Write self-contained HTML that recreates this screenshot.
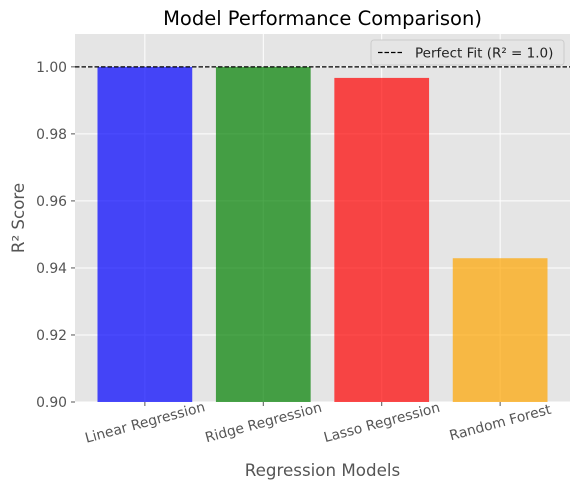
<!DOCTYPE html>
<html><head><meta charset="utf-8"><style>
body{margin:0;background:#fff;font-family:"Liberation Sans","DejaVu Sans",sans-serif}
svg text{font-family:"DejaVu Sans","Liberation Sans",sans-serif}
</style></head><body>
<svg id="chart" width="580" height="491"></svg>
<script>
const categories=["Linear Regression","Ridge Regression","Lasso Regression","Random Forest"];
const scores=[1.0,0.99999,0.9967,0.9429];
const colors=["#0000ff","#008000","#ff0000","#ffa500"];
const yTicks=[0.90,0.92,0.94,0.96,0.98,1.00];
const yMin=0.90,yMax=1.0098;
const L=75,R=570,T=34,B=402;
const ns="http://www.w3.org/2000/svg";
const svg=document.getElementById('chart');
function el(t,a,p){const e=document.createElementNS(ns,t);for(const k in a)e.setAttribute(k,a[k]);(p||svg).appendChild(e);return e;}
const xs=i=>L+(i+0.59)*(R-L)/4.18;
const ys=v=>B-(v-yMin)/(yMax-yMin)*(B-T);
const bg=el('rect',{x:L,y:T,width:R-L,height:B-T,fill:'#e5e5e5'});


yTicks.forEach(v=>{
 const g=el('line',{x1:L,x2:R,y1:ys(v),y2:ys(v),stroke:'#fff','stroke-width':1});
 
 
 el('line',{x1:L-4,x2:L,y1:ys(v),y2:ys(v),stroke:'#555'});
 const t=el('text',{x:L-8,y:ys(v)+5,'text-anchor':'end','font-size':13.9,fill:'#555'});
 t.textContent=v.toFixed(2);
 
 
});
categories.forEach((c,i)=>{
 const g=el('line',{x1:xs(i),x2:xs(i),y1:T,y2:B,stroke:'#fff'});
 
 
});
const w=0.8*(R-L)/4.18;
categories.forEach((c,i)=>{
 const b=el('rect',{x:xs(i)-w/2,y:ys(scores[i]),width:w,height:B-ys(scores[i]),fill:colors[i],'fill-opacity':0.7});
 
 
 el('line',{x1:xs(i),x2:xs(i),y1:B,y2:B+4,stroke:'#555'});
 const x=xs(i),y=B+20;
 const t=el('text',{x:x,y:y,'text-anchor':'middle','font-size':13.9,fill:'#555',transform:`rotate(-15 ${x} ${y}) translate(0 5)`});
 t.textContent=c;
 
 
});
const ref=el('line',{x1:L,x2:R,y1:ys(1.0),y2:ys(1.0),stroke:'#000','stroke-width':1.2,'stroke-dasharray':'4.5,2'});


const lg=el('g',{});


el('rect',{x:371,y:40,width:193,height:25,rx:3,fill:'#e5e5e5',stroke:'#ccc'},lg);
el('line',{x1:378,x2:404,y1:52.5,y2:52.5,stroke:'#000','stroke-width':1.2,'stroke-dasharray':'4.5,2'},lg);
const lt=el('text',{x:415,y:57.5,'font-size':13.5,fill:'#222'},lg);
lt.textContent='Perfect Fit (R² = 1.0)';
const tt=el('text',{x:(L+R)/2,y:25,'text-anchor':'middle','font-size':19.5,fill:'#000'});
tt.textContent='Model Performance Comparison)';


const xt=el('text',{x:(L+R)/2,y:476,'text-anchor':'middle','font-size':16.7,fill:'#555'});
xt.textContent='Regression Models';


const yt=el('text',{x:0,y:0,'text-anchor':'middle','font-size':16.7,fill:'#555',transform:`translate(24 ${(T+B)/2}) rotate(-90)`});
yt.textContent='R² Score';


</script>
</body></html>
